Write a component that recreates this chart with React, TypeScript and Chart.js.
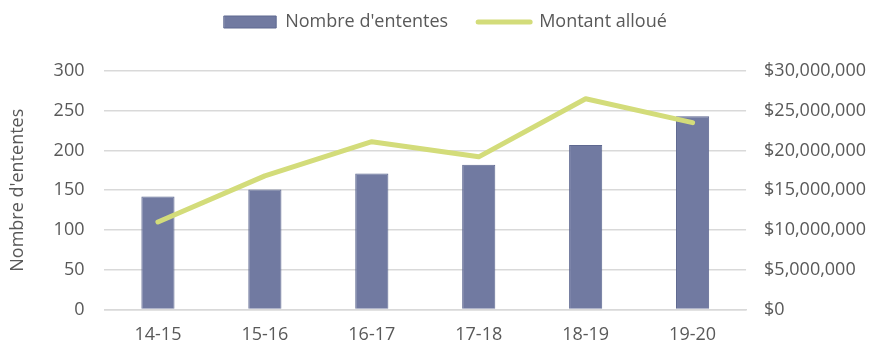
import React, { useEffect, useRef } from "react";
import { Chart, registerables } from "chart.js";

Chart.register(...registerables);

const categories = ["14-15", "15-16", "16-17", "17-18", "18-19", "19-20"];
const ententes = [142, 151, 171, 182, 207, 243];
const montants = [11000000, 16800000, 21100000, 19200000, 26500000, 23500000];
const seriesNames = ["Nombre d'ententes", "Montant alloué"];
const yTitle = "Nombre d'ententes";

const BAR = "#717AA1";
const BAR_BORDER = "#5E6890";
const LINE = "#D3DC7A";
const GRID = "#D9D9D9";
const TEXT = "#595959";
const FONT = "'Open Sans', sans-serif";
const FS = 18;

const legendSpacer = {
  id: "legendSpacer",
  beforeInit(chart: any) {
    const legend = chart.legend;
    const orig = legend.fit;
    legend.fit = function () {
      orig.call(this);
      this.height += 30;
    };
  },
};

export default function App() {
  const ref = useRef<HTMLCanvasElement>(null);
  useEffect(() => {
    document.body.style.margin = "0";
    const ctx = ref.current!;
    const chart = new Chart(ctx, {
      data: {
        labels: categories,
        datasets: [
          {
            type: "line",
            label: seriesNames[1],
            data: montants,
            yAxisID: "y1",
            borderColor: LINE,
            backgroundColor: LINE,
            borderWidth: 5,
            borderCapStyle: "round",
            borderJoinStyle: "round",
            pointRadius: 0,
            tension: 0,
            order: 0,
          },
          {
            type: "bar",
            label: seriesNames[0],
            data: ententes,
            yAxisID: "y",
            backgroundColor: BAR,
            borderColor: BAR_BORDER,
            borderWidth: 1,
            categoryPercentage: 1,
            barPercentage: 0.31,
            order: 1,
          },
        ],
      },
      plugins: [legendSpacer],
      options: {
        animation: false,
        responsive: true,
        maintainAspectRatio: false,
        layout: { padding: { top: -17, left: 7, right: -4, bottom: 1 } },
        plugins: {
          tooltip: { enabled: false },
          legend: {
            position: "top",
            labels: {
              color: TEXT,
              font: { family: FONT, size: FS },
              usePointStyle: true,
              pointStyleWidth: 52,
              boxHeight: 12,
              padding: 30,
              generateLabels: (c) => {
                const ds = c.data.datasets;
                return [1, 0].map((i) => {
                  const d: any = ds[i];
                  const isLine = d.type === "line";
                  return {
                    text: d.label,
                    datasetIndex: i,
                    fillStyle: d.backgroundColor,
                    strokeStyle: isLine ? d.borderColor : BAR_BORDER,
                    lineWidth: isLine ? 5 : 1,
                    lineCap: "round",
                    pointStyle: isLine ? "line" : "rect",
                    fontColor: TEXT,
                    hidden: false,
                  } as any;
                });
              },
            },
          },
        },
        scales: {
          x: {
            grid: { display: false },
            border: { display: true, color: GRID, width: 1.5 },
            ticks: { color: TEXT, font: { family: FONT, size: FS }, padding: 7 },
          },
          y: {
            position: "left",
            min: 0,
            max: 300,
            ticks: { stepSize: 50, color: TEXT, font: { family: FONT, size: FS }, padding: 20 },
            grid: { color: GRID, lineWidth: 1.5, drawTicks: false },
            border: { display: false },
            title: {
              display: true,
              text: yTitle,
              color: TEXT,
              font: { family: FONT, size: FS },
              padding: { top: 0, bottom: 5 },
            },
          },
          y1: {
            position: "right",
            min: 0,
            max: 30000000,
            ticks: {
              stepSize: 5000000,
              color: TEXT,
              font: { family: FONT, size: FS },
              padding: 18,
              callback: (v: any) => "$" + Number(v).toLocaleString("en-US"),
            },
            grid: { display: false, drawTicks: false },
            border: { display: false },
          },
        },
      },
    });
    return () => chart.destroy();
  }, []);
  return (
    <div style={{ width: 880, height: 354, position: "relative" }}>
      <canvas ref={ref} />
    </div>
  );
}
